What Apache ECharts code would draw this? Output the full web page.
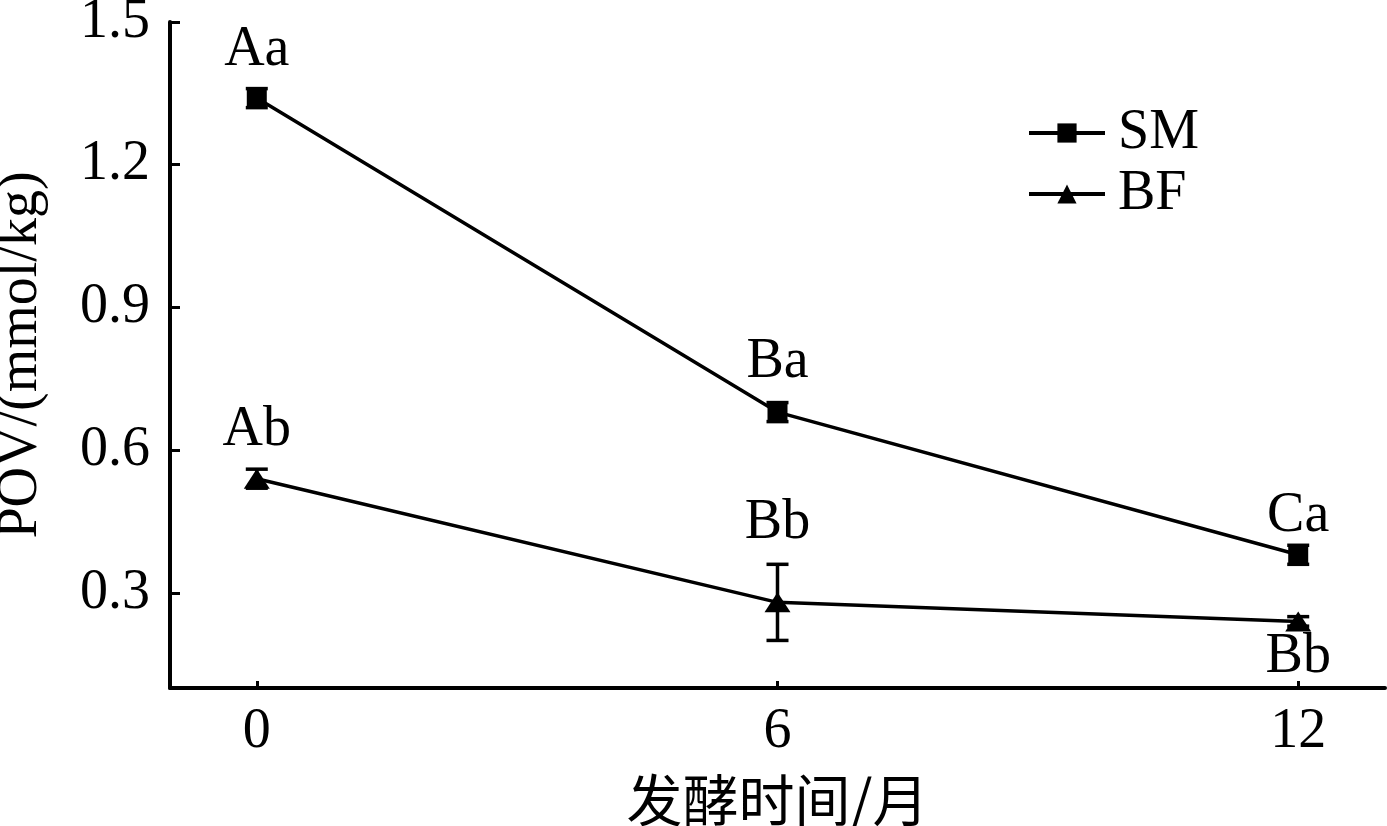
<!DOCTYPE html>
<html><head><meta charset="utf-8">
<script src="https://cdn.jsdelivr.net/npm/echarts@6/dist/echarts.min.js"></script>
<style>html,body{margin:0;padding:0;background:#fff}#c{width:1387px;height:826px}</style>
</head><body><div id="c"></div>
<script>
const months = [0, 6, 12];
const smValues = [1.34, 0.68, 0.38];
const smErrors = [0.02, 0.02, 0.02];
const smLabels = ['Aa', 'Ba', 'Ca'];
const bfValues = [0.54, 0.28, 0.24];
const bfErrors = [0.02, 0.08, 0.01];
const bfLabels = ['Ab', 'Bb', 'Bb'];
const yTicks = [0.3, 0.6, 0.9, 1.2, 1.5];
const xTicks = [0, 6, 12];

const serif = '"Liberation Serif","DejaVu Serif",serif';
const FS = 56;
const chart = echarts.init(document.getElementById('c'), null, {renderer: 'canvas'});

function errSeries(vals, errs) {
  return {
    type: 'custom',
    silent: true,
    z: 1,
    data: months.map((m, i) => [m, vals[i] - errs[i], vals[i] + errs[i]]),
    renderItem: function (params, api) {
      const x = api.value(0);
      const lo = api.coord([x, api.value(1)]);
      const hi = api.coord([x, api.value(2)]);
      const hw = 11;
      const st = {stroke: '#000', lineWidth: 3.5};
      return {type: 'group', children: [
        {type: 'line', shape: {x1: lo[0], y1: lo[1], x2: hi[0], y2: hi[1]}, style: st},
        {type: 'line', shape: {x1: lo[0] - hw, y1: lo[1], x2: lo[0] + hw, y2: lo[1]}, style: st},
        {type: 'line', shape: {x1: hi[0] - hw, y1: hi[1], x2: hi[0] + hw, y2: hi[1]}, style: st}
      ]};
    }
  };
}

const labelStyle = {color: '#000', fontFamily: serif, fontSize: FS};
function pts(vals, labels, dists, positions, offs) {
  return months.map((m, i) => ({
    value: [m, vals[i]],
    label: Object.assign({show: true, formatter: labels[i], position: positions[i], distance: dists[i], offset: offs[i]}, labelStyle)
  }));
}

chart.setOption({
  animation: false,
  backgroundColor: '#fff',
  grid: {left: 170, top: 22, right: 2, bottom: 138, containLabel: false, outerBoundsMode: 'none'},
  legend: {
    left: 1022, top: 100, orient: 'vertical',
    itemWidth: 76, itemHeight: 24, itemGap: 5,
    lineStyle: {width: 4},
    textStyle: {fontFamily: serif, fontSize: FS, color: '#000', padding: [0, 0, 0, 8]},
    data: ['SM', 'BF']
  },
  xAxis: {
    type: 'value', min: -1, max: 13,
    name: '发酵时间/月', nameLocation: 'middle', nameGap: 84,
    nameTextStyle: {fontFamily: '"Noto Sans CJK SC",' + serif, fontSize: FS, color: '#000'},
    axisLine: {onZero: false, lineStyle: {color: '#000', width: 4}},
    axisTick: {inside: true, length: 7, lineStyle: {color: '#000', width: 3}, customValues: xTicks},
    axisLabel: {fontFamily: serif, fontSize: FS, color: '#000', margin: 16, customValues: xTicks},
    splitLine: {show: false}
  },
  yAxis: {
    type: 'value', min: 0.1, max: 1.5,
    name: 'POV/(mmol/kg)', nameLocation: 'middle', nameGap: 121,
    nameTextStyle: {fontFamily: serif, fontSize: FS, color: '#000'},
    axisLine: {show: true, onZero: false, lineStyle: {color: '#000', width: 4}},
    axisTick: {show: true, inside: true, length: 10, lineStyle: {color: '#000', width: 3}, customValues: yTicks},
    axisLabel: {fontFamily: serif, fontSize: FS, color: '#000', margin: 20, customValues: yTicks, formatter: v => v.toFixed(1)},
    splitLine: {show: false}
  },
  series: [
    errSeries(smValues, smErrors),
    errSeries(bfValues, bfErrors),
    {
      name: 'SM', type: 'line', symbol: 'rect', symbolSize: 20, z: 3,
      lineStyle: {color: '#000', width: 3.5}, itemStyle: {color: '#000'},
      data: pts(smValues, smLabels, [10, 12, 1], ['top', 'top', 'top'], [[0, 0], [0, 0], [0, 0]])
    },
    {
      name: 'BF', type: 'line', symbol: 'triangle', symbolSize: [26, 20], z: 3,
      lineStyle: {color: '#000', width: 3.5}, itemStyle: {color: '#000'},
      data: pts(bfValues, bfLabels, [10, 41, 0], ['top', 'top', 'bottom'], [[0, 0], [0, 0], [0, -2]])
    }
  ]
});
</script></body></html>
